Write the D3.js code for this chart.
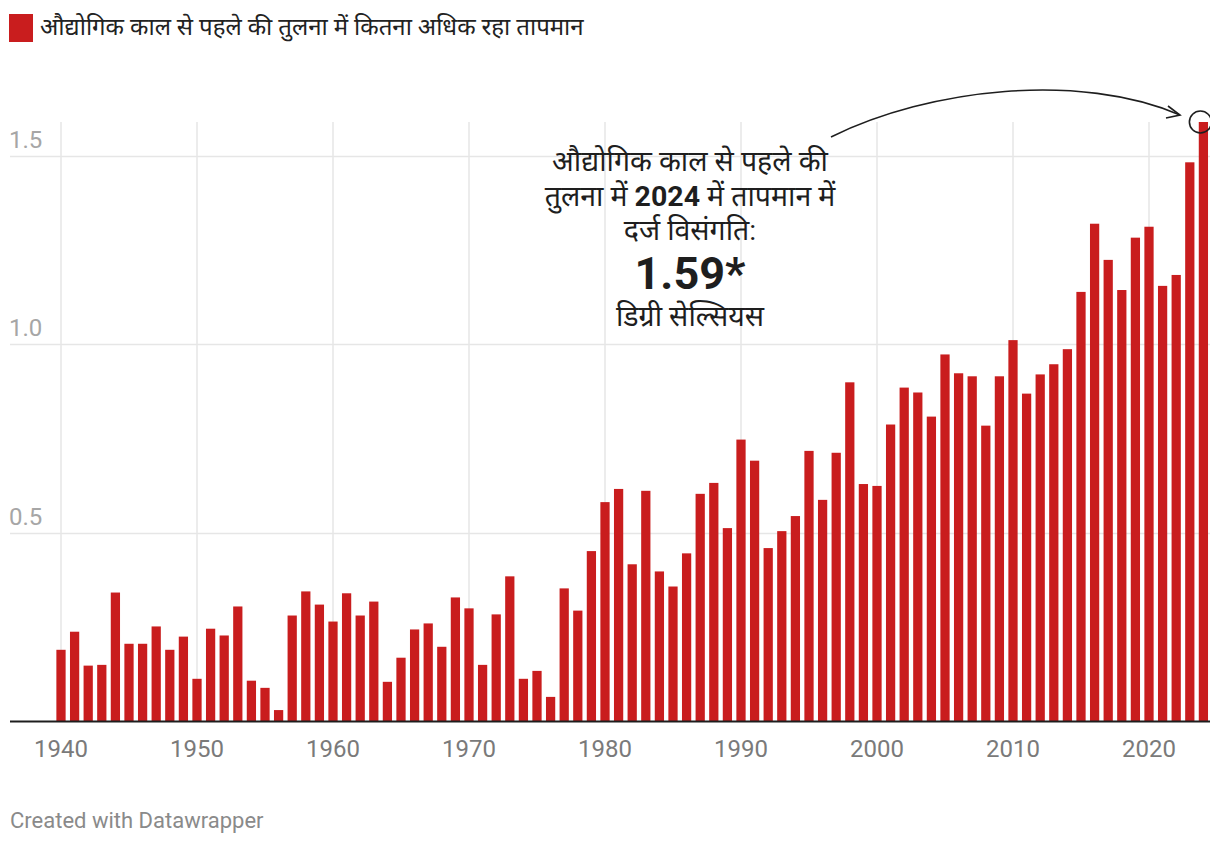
<!DOCTYPE html>
<html>
<head>
<meta charset="utf-8">
<script src="https://cdn.jsdelivr.net/npm/d3@7"></script>
<style>
  html, body { margin: 0; padding: 0; background: #fff; }
  svg { display: block; font-family: Roboto, "Noto Sans", sans-serif; }
</style>
</head>
<body>
<svg id="chart" width="1220" height="846"></svg>
<script>
const years = d3.range(1940, 2025);
const anomalies = [
  0.189, 0.237, 0.147, 0.149, 0.341, 0.205, 0.205, 0.251, 0.189, 0.224,
  0.112, 0.245, 0.227, 0.304, 0.107, 0.088, 0.029, 0.280, 0.344, 0.309,
  0.264, 0.339, 0.280, 0.317, 0.104, 0.168, 0.243, 0.259, 0.197, 0.328,
  0.299, 0.149, 0.283, 0.384, 0.112, 0.133, 0.064, 0.352, 0.293, 0.451,
  0.581, 0.616, 0.416, 0.611, 0.397, 0.357, 0.445, 0.603, 0.632, 0.512,
  0.747, 0.691, 0.459, 0.504, 0.544, 0.717, 0.587, 0.712, 0.899, 0.629,
  0.624, 0.787, 0.885, 0.872, 0.808, 0.973, 0.923, 0.915, 0.784, 0.915,
  1.011, 0.869, 0.920, 0.947, 0.987, 1.139, 1.320, 1.224, 1.144, 1.283,
  1.312, 1.155, 1.184, 1.483, 1.590
];
const xTicks = [1940, 1950, 1960, 1970, 1980, 1990, 2000, 2010, 2020];
const yTicks = [0.5, 1.0, 1.5];
const yTickLabels = ["0.5", "1.0", "1.5"];
const legendLabel = "औद्योगिक काल से पहले की तुलना में कितना अधिक रहा तापमान";
const annoLines = ["औद्योगिक काल से पहले की", "तुलना में ", "2024", " में तापमान में", "दर्ज विसंगति:", "1.59*", "डिग्री सेल्सियस"];
const footer = "Created with Datawrapper";

const svg = d3.select("#chart");
const barColor = "#c91d1e";

const x = d3.scaleBand().domain(years).range([54.2, 1210.2]).paddingInner(0.32).paddingOuter(0.16);
const y = d3.scaleLinear().domain([0, 1.59]).range([721, 122]);

// clip
svg.append("defs").append("clipPath").attr("id", "clip")
  .append("rect").attr("x", 0).attr("y", 0).attr("width", 1210).attr("height", 846);

// legend
svg.append("rect").attr("x", 9).attr("y", 14).attr("width", 24).attr("height", 28).attr("fill", barColor);
svg.append("text").attr("x", 40).attr("y", 35).attr("font-size", 24).attr("fill", "#222")
  .text(legendLabel);

// vertical gridlines
const xc = d => x(d) + x.bandwidth() / 2;
svg.append("g").selectAll("line").data(xTicks).join("line")
  .attr("x1", d => xc(d)).attr("x2", d => xc(d))
  .attr("y1", 122).attr("y2", 721)
  .attr("stroke", "#e6e6e6").attr("stroke-width", 1.5);

// horizontal gridlines
svg.append("g").selectAll("line").data(yTicks).join("line")
  .attr("x1", 10).attr("x2", 1210)
  .attr("y1", d => Math.round(y(d)) + 0.5).attr("y2", d => Math.round(y(d)) + 0.5)
  .attr("stroke", "#e6e6e6").attr("stroke-width", 1.5);

svg.append("g").selectAll("text").data(yTicks).join("text")
  .attr("x", 9).attr("y", d => y(d) - 8)
  .attr("font-size", 24).attr("fill", "#a6a6a6")
  .text((d, i) => yTickLabels[i]);

// bars
svg.append("g").selectAll("rect").data(anomalies).join("rect")
  .attr("x", (d, i) => x(years[i]))
  .attr("width", x.bandwidth())
  .attr("y", d => y(d))
  .attr("height", d => y(0) - y(d))
  .attr("fill", barColor);

// baseline
svg.append("line").attr("x1", 10).attr("x2", 1210).attr("y1", 721.5).attr("y2", 721.5)
  .attr("stroke", "#1e1e1e").attr("stroke-width", 2);

// x labels
svg.append("g").selectAll("text").data(xTicks).join("text")
  .attr("x", d => xc(d)).attr("y", 757)
  .attr("text-anchor", "middle").attr("font-size", 24).attr("fill", "#7a7a7a")
  .text(d => d);

// annotation
const ax = 690;
const ann = svg.append("g").attr("fill", "#1e1e1e").attr("text-anchor", "middle");
ann.append("text").attr("x", ax).attr("y", 171).attr("font-size", 28.5).text(annoLines[0]);
const l2 = ann.append("text").attr("x", ax).attr("y", 206).attr("font-size", 28.5);
l2.append("tspan").text(annoLines[1]);
l2.append("tspan").attr("font-weight", "bold").text(annoLines[2]);
l2.append("tspan").text(annoLines[3]);
ann.append("text").attr("x", ax).attr("y", 240).attr("font-size", 28.5).text(annoLines[4]);
ann.append("text").attr("x", ax).attr("y", 289).attr("font-size", 45).attr("font-weight", "bold").text(annoLines[5]);
ann.append("text").attr("x", ax).attr("y", 326).attr("font-size", 28.5).text(annoLines[6]);

// arrow
const ag = svg.append("g").attr("clip-path", "url(#clip)")
  .attr("fill", "none").attr("stroke", "#1e1e1e").attr("stroke-width", 1.6);
ag.append("path").attr("d", "M831,137 C930,88 1080,72 1180,115");
ag.append("path").attr("d", "M1168,106 L1180,115 L1166,118");
ag.append("circle").attr("cx", xc(2024) - 3).attr("cy", y(1.59)).attr("r", 11);

// footer
svg.append("text").attr("x", 10).attr("y", 828).attr("font-size", 22).attr("fill", "#8a8a8a").text(footer);
</script>
</body>
</html>
